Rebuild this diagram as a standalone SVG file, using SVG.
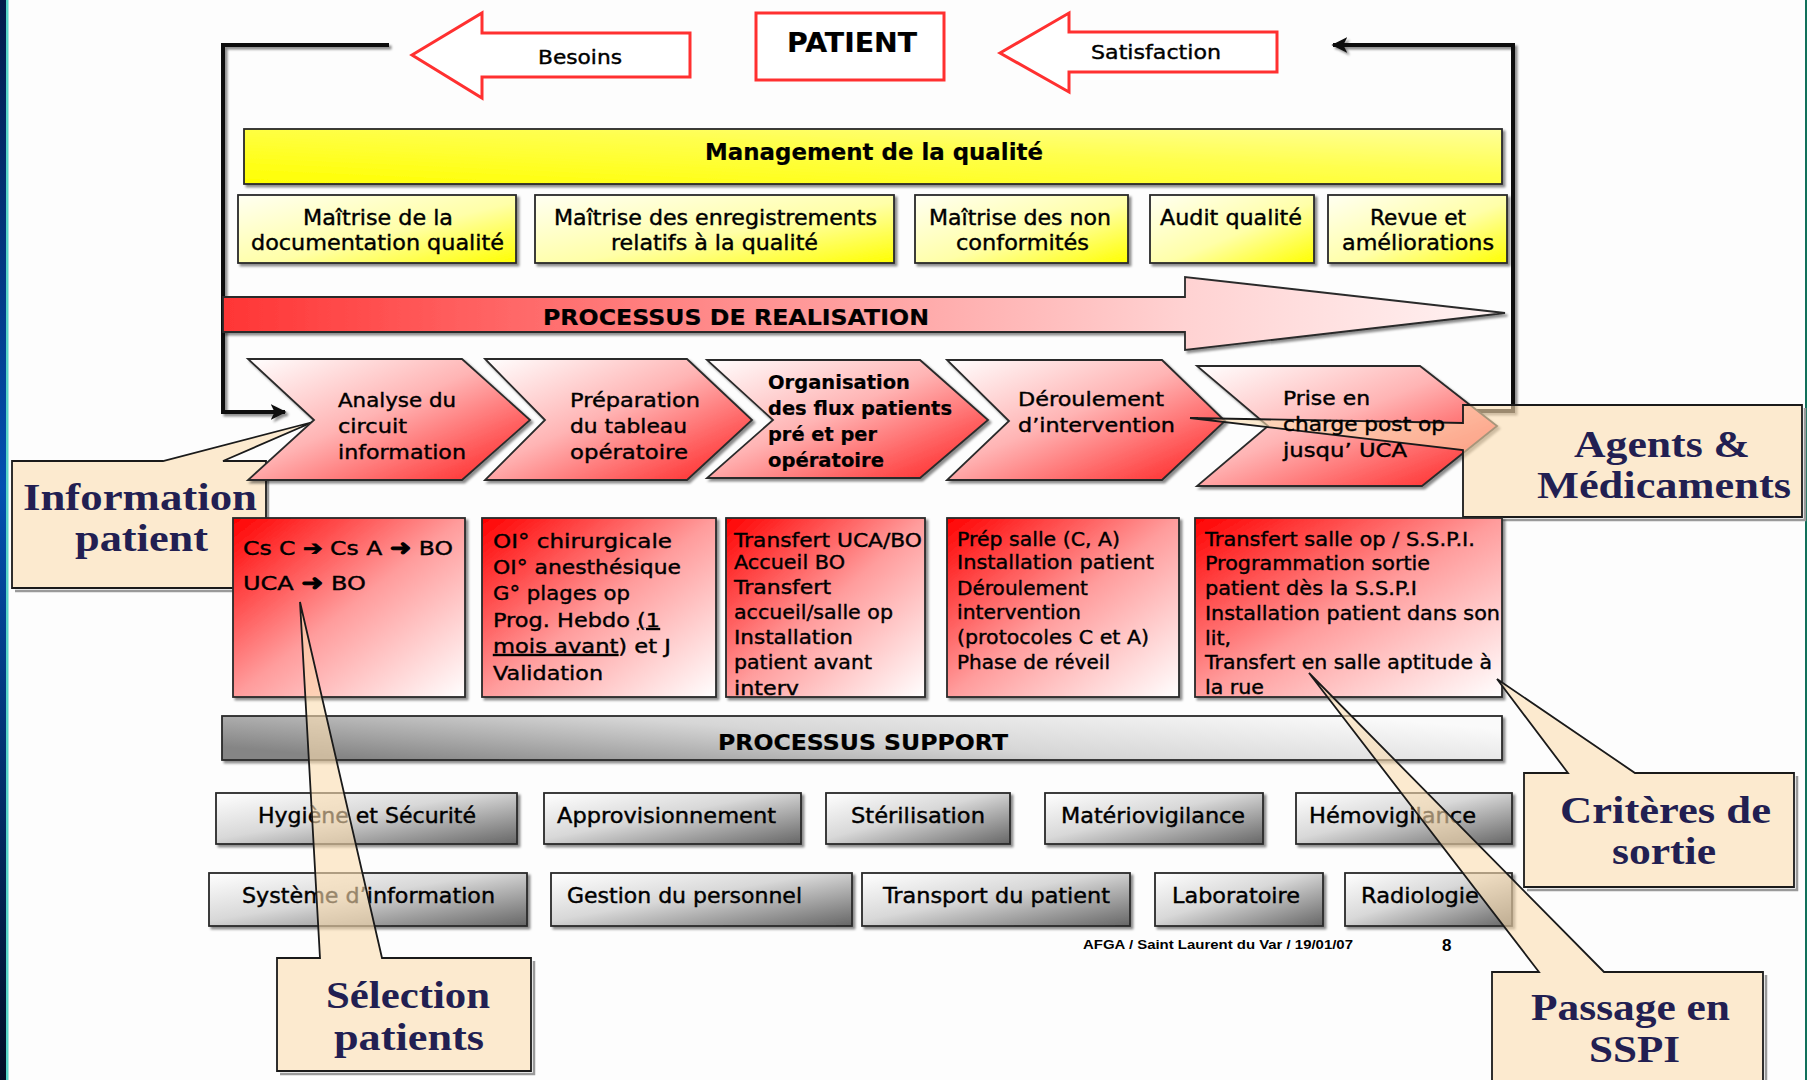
<svg xmlns="http://www.w3.org/2000/svg" width="1810" height="1080" viewBox="0 0 1810 1080">
<style>
.t{font-family:"DejaVu Sans","Liberation Sans",sans-serif;fill:#000;stroke:#000;stroke-width:0.4px}
.b{font-weight:bold;stroke-width:0.2px}
.f19{font-size:19px}.f20{font-size:20px}.f21{font-size:21px}.f22{font-size:22px}.f23{font-size:23px}
.s{font-family:"Liberation Serif","DejaVu Serif",serif;font-weight:bold;fill:#221f52;font-size:38px}
.box{stroke:#2a2a2a;stroke-width:1.8;filter:url(#sh)}
.call{fill:#FCDDB0;fill-opacity:0.6;stroke:#1a1a1a;stroke-width:1.8}
.callsh{fill:none;stroke:#9a9a9a;stroke-width:2.5}
.loop{fill:none;stroke:#111;stroke-width:4;filter:url(#sh)}
.redout{fill:#fff;stroke:#ff3030;stroke-width:3}
.u{text-decoration:underline}
.ar{font-weight:bold;font-size:22px;stroke-width:1px}
</style>
<defs>
<filter id="sh" x="-5%" y="-5%" width="115%" height="130%"><feDropShadow dx="2.5" dy="2.5" stdDeviation="1" flood-color="#000" flood-opacity="0.45"/></filter>
<linearGradient id="gEdge" x1="0" y1="0" x2="0" y2="1"><stop offset="0" stop-color="#001a4a"/><stop offset="0.45" stop-color="#0050b0"/><stop offset="1" stop-color="#000d26"/></linearGradient>
<linearGradient id="gYB" x1="0" y1="1" x2="1" y2="0"><stop offset="0" stop-color="#ffff00"/><stop offset="0.6" stop-color="#ffff50"/><stop offset="1" stop-color="#ffff9a"/></linearGradient>
<linearGradient id="gYx" x1="0" y1="0" x2="1" y2="1"><stop offset="0" stop-color="#fffff2"/><stop offset="0.55" stop-color="#ffffa8"/><stop offset="1" stop-color="#ffff00"/></linearGradient>
<linearGradient id="gRA" x1="0" y1="0" x2="1" y2="0"><stop offset="0" stop-color="#ff3535"/><stop offset="0.4" stop-color="#ff8e8e"/><stop offset="0.75" stop-color="#ffd2d2"/><stop offset="1" stop-color="#fff3f3"/></linearGradient>
<linearGradient id="gCh" x1="0" y1="0" x2="1" y2="1"><stop offset="0" stop-color="#ffffff"/><stop offset="0.45" stop-color="#ffb4b4"/><stop offset="1" stop-color="#ff1a1a"/></linearGradient>
<linearGradient id="gRB" x1="0" y1="0" x2="1" y2="1"><stop offset="0" stop-color="#ff0000"/><stop offset="0.5" stop-color="#ff9c9c"/><stop offset="1" stop-color="#ffffff"/></linearGradient>
<linearGradient id="gGB" x1="0" y1="0.7" x2="1" y2="0.3"><stop offset="0" stop-color="#858585"/><stop offset="0.5" stop-color="#d6d6d6"/><stop offset="1" stop-color="#fafafa"/></linearGradient>
<linearGradient id="gGx" x1="0" y1="0" x2="1" y2="1"><stop offset="0" stop-color="#ffffff"/><stop offset="0.45" stop-color="#d8d8d8"/><stop offset="1" stop-color="#666666"/></linearGradient>
<marker id="ah" viewBox="0 0 10 10" refX="9" refY="5" markerWidth="16" markerHeight="16" markerUnits="userSpaceOnUse" orient="auto"><path d="M0,0 L10,5 L0,10 L2.5,5 Z" fill="#111"/></marker>
</defs>

<rect width="1810" height="1080" fill="#fdfdfd"/>
<rect x="0" y="0" width="6" height="1080" fill="url(#gEdge)"/>
<rect x="6" y="0" width="2.5" height="1080" fill="#55d4c8"/>
<rect x="1805" y="0" width="2" height="1080" fill="#10705a"/>

<g id="connectors">
<path class="loop" d="M389,45 L223,45 L223,412 L285,412" marker-end="url(#ah)"/>
<path class="loop" d="M1465,411 L1513,411 L1513,45 L1333,45" marker-end="url(#ah)"/>
</g>

<g id="patient">
<rect class="redout" x="756" y="13" width="188" height="67"/>
<text class="t b" x="787" y="52" font-size="27" textLength="130" lengthAdjust="spacingAndGlyphs">PATIENT</text>
</g>
<g id="besoins">
<path class="redout" d="M412,55 L482,13 L482,33 L690,33 L690,77 L482,77 L482,98 Z"/>
<text class="t f20" x="538" y="64" textLength="84" lengthAdjust="spacingAndGlyphs">Besoins</text>
</g>
<g id="satisfaction">
<path class="redout" d="M1000,53 L1069,13 L1069,32 L1277,32 L1277,72 L1069,72 L1069,92 Z"/>
<text class="t f20" x="1091" y="59" textLength="130" lengthAdjust="spacingAndGlyphs">Satisfaction</text>
</g>

<g id="management">
<rect class="box" x="244" y="129" width="1258" height="55" fill="url(#gYB)"/>
<text class="t b f23" x="705" y="160" textLength="338" lengthAdjust="spacingAndGlyphs">Management de la qualité</text>
</g>
<g id="q1"><rect class="box" x="238" y="195" width="278" height="68" fill="url(#gYx)"/>
<text class="t f21" x="303" y="225" textLength="150" lengthAdjust="spacingAndGlyphs">Maîtrise de la</text>
<text class="t f21" x="251" y="250" textLength="253" lengthAdjust="spacingAndGlyphs">documentation qualité</text></g>
<g id="q2"><rect class="box" x="535" y="195" width="359" height="68" fill="url(#gYx)"/>
<text class="t f21" x="554" y="225" textLength="323" lengthAdjust="spacingAndGlyphs">Maîtrise des enregistrements</text>
<text class="t f21" x="611" y="250" textLength="207" lengthAdjust="spacingAndGlyphs">relatifs à la qualité</text></g>
<g id="q3"><rect class="box" x="915" y="195" width="213" height="68" fill="url(#gYx)"/>
<text class="t f21" x="929" y="225" textLength="182" lengthAdjust="spacingAndGlyphs">Maîtrise des non</text>
<text class="t f21" x="956" y="250" textLength="133" lengthAdjust="spacingAndGlyphs">conformités</text></g>
<g id="q4"><rect class="box" x="1150" y="195" width="164" height="68" fill="url(#gYx)"/>
<text class="t f21" x="1160" y="225" textLength="142" lengthAdjust="spacingAndGlyphs">Audit qualité</text></g>
<g id="q5"><rect class="box" x="1328" y="195" width="179" height="68" fill="url(#gYx)"/>
<text class="t f21" x="1370" y="225" textLength="96" lengthAdjust="spacingAndGlyphs">Revue et</text>
<text class="t f21" x="1342" y="250" textLength="152" lengthAdjust="spacingAndGlyphs">améliorations</text></g>

<g id="realisation">
<path class="box" d="M223,297 L1185,297 L1185,277 L1505,313 L1185,350 L1185,332 L223,332 Z" fill="url(#gRA)"/>
<text class="t b f22" x="543" y="325" textLength="386" lengthAdjust="spacingAndGlyphs">PROCESSUS DE REALISATION</text>
</g>

<g id="callout-information">
<path class="callsh" d="M268,464 L268,591 L15,591"/>
<path class="call" d="M12,461 L163,461 L313,422 L223,461 L266,461 L266,588 L12,588 Z"/>
<text class="s" x="23" y="510" textLength="234" lengthAdjust="spacingAndGlyphs">Information</text>
<text class="s" x="75" y="551" textLength="133" lengthAdjust="spacingAndGlyphs">patient</text>
</g>

<g id="chev1"><path class="box" d="M248,359 L462,359 L530,420 L462,480 L248,480 L314,420 Z" fill="url(#gCh)"/>
<text class="t f20" x="338" y="407" textLength="118" lengthAdjust="spacingAndGlyphs">Analyse du</text>
<text class="t f20" x="338" y="433" textLength="69" lengthAdjust="spacingAndGlyphs">circuit</text>
<text class="t f20" x="338" y="459" textLength="128" lengthAdjust="spacingAndGlyphs">information</text></g>
<g id="chev2"><path class="box" d="M485,359 L687,359 L752,420 L687,480 L485,480 L545,420 Z" fill="url(#gCh)"/>
<text class="t f20" x="570" y="407" textLength="130" lengthAdjust="spacingAndGlyphs">Préparation</text>
<text class="t f20" x="570" y="433" textLength="117" lengthAdjust="spacingAndGlyphs">du tableau</text>
<text class="t f20" x="570" y="459" textLength="118" lengthAdjust="spacingAndGlyphs">opératoire</text></g>
<g id="chev3"><path class="box" d="M707,360 L920,360 L988,420 L920,478 L707,478 L773,420 Z" fill="url(#gCh)"/>
<text class="t b f19" x="768" y="389" textLength="142" lengthAdjust="spacingAndGlyphs">Organisation</text>
<text class="t b f19" x="768" y="415" textLength="184" lengthAdjust="spacingAndGlyphs">des flux patients</text>
<text class="t b f19" x="768" y="441" textLength="109" lengthAdjust="spacingAndGlyphs">pré et per</text>
<text class="t b f19" x="768" y="467" textLength="116" lengthAdjust="spacingAndGlyphs">opératoire</text></g>
<g id="chev4"><path class="box" d="M947,360 L1162,360 L1225,421 L1162,480 L947,480 L1009,421 Z" fill="url(#gCh)"/>
<text class="t f20" x="1018" y="406" textLength="146" lengthAdjust="spacingAndGlyphs">Déroulement</text>
<text class="t f20" x="1018" y="432" textLength="157" lengthAdjust="spacingAndGlyphs">d’intervention</text></g>
<g id="chev5"><path class="box" d="M1197,366 L1420,366 L1497,426 L1422,486 L1197,486 L1268,426 Z" fill="url(#gCh)"/></g>

<g id="callout-agents">
<path class="callsh" d="M1805,408 L1805,520 L1466,520"/>
<path class="call" d="M1463,405 L1802,405 L1802,517 L1463,517 L1463,450 L1190,418 L1463,423 Z"/>
<text class="s" x="1574" y="457" textLength="176" lengthAdjust="spacingAndGlyphs">Agents &amp;</text>
<text class="s" x="1537" y="498" textLength="254" lengthAdjust="spacingAndGlyphs">Médicaments</text>
</g>
<g id="chev5-label">
<text class="t f20" x="1283" y="405" textLength="87" lengthAdjust="spacingAndGlyphs">Prise en</text>
<text class="t f20" x="1283" y="431" textLength="162" lengthAdjust="spacingAndGlyphs">charge post op</text>
<text class="t f20" x="1283" y="457" textLength="124" lengthAdjust="spacingAndGlyphs">jusqu’ UCA</text>
</g>

<g id="r1"><rect class="box" x="233" y="518" width="232" height="179" fill="url(#gRB)"/>
<text class="t f20" x="243" y="555" textLength="210" lengthAdjust="spacingAndGlyphs">Cs C <tspan font-weight="bold" stroke-width="0.8">➔</tspan> Cs A <tspan class="ar">➜</tspan> BO</text>
<text class="t f20" x="243" y="590" textLength="123" lengthAdjust="spacingAndGlyphs">UCA <tspan class="ar">➜</tspan> BO</text></g>
<g id="r2"><rect class="box" x="482" y="518" width="234" height="179" fill="url(#gRB)"/>
<text class="t f20" x="493" y="548" textLength="179" lengthAdjust="spacingAndGlyphs">OI°  chirurgicale</text>
<text class="t f20" x="493" y="574" textLength="188" lengthAdjust="spacingAndGlyphs">OI° anesthésique</text>
<text class="t f20" x="493" y="600" textLength="137" lengthAdjust="spacingAndGlyphs">G° plages op</text>
<text class="t f20" x="493" y="627" textLength="167" lengthAdjust="spacingAndGlyphs">Prog. Hebdo <tspan class="u">(1</tspan></text>
<text class="t f20" x="493" y="653" textLength="178" lengthAdjust="spacingAndGlyphs"><tspan class="u">mois avant</tspan>) et J</text>
<text class="t f20" x="493" y="680" textLength="110" lengthAdjust="spacingAndGlyphs">Validation</text></g>
<g id="r3"><rect class="box" x="726" y="518" width="199" height="179" fill="url(#gRB)"/>
<text class="t f20" x="734" y="547" textLength="188" lengthAdjust="spacingAndGlyphs">Transfert UCA/BO</text>
<text class="t f20" x="734" y="569" textLength="111" lengthAdjust="spacingAndGlyphs">Accueil BO</text>
<text class="t f20" x="734" y="594" textLength="97" lengthAdjust="spacingAndGlyphs">Transfert</text>
<text class="t f20" x="734" y="619" textLength="159" lengthAdjust="spacingAndGlyphs">accueil/salle op</text>
<text class="t f20" x="734" y="644" textLength="119" lengthAdjust="spacingAndGlyphs">Installation</text>
<text class="t f20" x="734" y="669" textLength="138" lengthAdjust="spacingAndGlyphs">patient avant</text>
<text class="t f20" x="734" y="695" textLength="65" lengthAdjust="spacingAndGlyphs">interv</text></g>
<g id="r4"><rect class="box" x="947" y="518" width="232" height="179" fill="url(#gRB)"/>
<text class="t f20" x="957" y="546" textLength="163" lengthAdjust="spacingAndGlyphs">Prép salle (C, A)</text>
<text class="t f20" x="957" y="569" textLength="197" lengthAdjust="spacingAndGlyphs">Installation patient</text>
<text class="t f20" x="957" y="595" textLength="131" lengthAdjust="spacingAndGlyphs">Déroulement</text>
<text class="t f20" x="957" y="619" textLength="124" lengthAdjust="spacingAndGlyphs">intervention</text>
<text class="t f20" x="957" y="644" textLength="192" lengthAdjust="spacingAndGlyphs">(protocoles C et A)</text>
<text class="t f20" x="957" y="669" textLength="153" lengthAdjust="spacingAndGlyphs">Phase de réveil</text></g>
<g id="r5"><rect class="box" x="1195" y="518" width="307" height="179" fill="url(#gRB)"/>
<text class="t f20" x="1205" y="546" textLength="270" lengthAdjust="spacingAndGlyphs">Transfert salle op / S.S.P.I.</text>
<text class="t f20" x="1205" y="570" textLength="225" lengthAdjust="spacingAndGlyphs">Programmation sortie</text>
<text class="t f20" x="1205" y="595" textLength="212" lengthAdjust="spacingAndGlyphs">patient dès la S.S.P.I</text>
<text class="t f20" x="1205" y="620" textLength="295" lengthAdjust="spacingAndGlyphs">Installation patient dans son</text>
<text class="t f20" x="1205" y="645" textLength="26" lengthAdjust="spacingAndGlyphs">lit,</text>
<text class="t f20" x="1205" y="669" textLength="287" lengthAdjust="spacingAndGlyphs">Transfert en salle aptitude à</text>
<text class="t f20" x="1205" y="694" textLength="59" lengthAdjust="spacingAndGlyphs">la rue</text></g>

<g id="support">
<rect class="box" x="222" y="716" width="1280" height="44" fill="url(#gGB)"/>
<text class="t b f22" x="718" y="750" textLength="290" lengthAdjust="spacingAndGlyphs">PROCESSUS SUPPORT</text>
</g>
<g id="s1"><rect class="box" x="216" y="793" width="301" height="51" fill="url(#gGx)"/><text class="t f21" x="258" y="823" textLength="218" lengthAdjust="spacingAndGlyphs">Hygiène et Sécurité</text></g>
<g id="s2"><rect class="box" x="544" y="793" width="257" height="51" fill="url(#gGx)"/><text class="t f21" x="557" y="823" textLength="219" lengthAdjust="spacingAndGlyphs">Approvisionnement</text></g>
<g id="s3"><rect class="box" x="826" y="793" width="184" height="51" fill="url(#gGx)"/><text class="t f21" x="851" y="823" textLength="134" lengthAdjust="spacingAndGlyphs">Stérilisation</text></g>
<g id="s4"><rect class="box" x="1045" y="793" width="218" height="51" fill="url(#gGx)"/><text class="t f21" x="1061" y="823" textLength="184" lengthAdjust="spacingAndGlyphs">Matériovigilance</text></g>
<g id="s5"><rect class="box" x="1296" y="793" width="216" height="51" fill="url(#gGx)"/><text class="t f21" x="1309" y="823" textLength="167" lengthAdjust="spacingAndGlyphs">Hémovigilance</text></g>
<g id="s6"><rect class="box" x="209" y="873" width="318" height="53" fill="url(#gGx)"/><text class="t f21" x="242" y="903" textLength="253" lengthAdjust="spacingAndGlyphs">Système d’information</text></g>
<g id="s7"><rect class="box" x="551" y="873" width="301" height="53" fill="url(#gGx)"/><text class="t f21" x="567" y="903" textLength="235" lengthAdjust="spacingAndGlyphs">Gestion du personnel</text></g>
<g id="s8"><rect class="box" x="862" y="873" width="268" height="53" fill="url(#gGx)"/><text class="t f21" x="883" y="903" textLength="227" lengthAdjust="spacingAndGlyphs">Transport du patient</text></g>
<g id="s9"><rect class="box" x="1155" y="873" width="168" height="53" fill="url(#gGx)"/><text class="t f21" x="1172" y="903" textLength="128" lengthAdjust="spacingAndGlyphs">Laboratoire</text></g>
<g id="s10"><rect class="box" x="1345" y="873" width="167" height="53" fill="url(#gGx)"/><text class="t f21" x="1361" y="903" textLength="118" lengthAdjust="spacingAndGlyphs">Radiologie</text></g>

<g id="footer">
<text x="1083" y="949" font-family="Liberation Sans, Arial, sans-serif" font-weight="bold" font-size="12" textLength="270" lengthAdjust="spacingAndGlyphs">AFGA / Saint Laurent du Var / 19/01/07</text>
<text x="1442" y="951" font-family="Liberation Sans, Arial, sans-serif" font-weight="bold" font-size="17">8</text>
</g>

<g id="callout-selection">
<path class="callsh" d="M534,961 L534,1074 L280,1074"/>
<path class="call" d="M277,958 L320,958 L300,602 L382,958 L531,958 L531,1071 L277,1071 Z"/>
<text class="s" x="326" y="1008" textLength="164" lengthAdjust="spacingAndGlyphs">Sélection</text>
<text class="s" x="334" y="1050" textLength="150" lengthAdjust="spacingAndGlyphs">patients</text>
</g>
<g id="callout-criteres">
<path class="callsh" d="M1797,776 L1797,890 L1527,890"/>
<path class="call" d="M1524,773 L1568,773 L1497,679 L1635,773 L1794,773 L1794,887 L1524,887 Z"/>
<text class="s" x="1560" y="823" textLength="211" lengthAdjust="spacingAndGlyphs">Critères de</text>
<text class="s" x="1612" y="864" textLength="104" lengthAdjust="spacingAndGlyphs">sortie</text>
</g>
<g id="callout-passage">
<path class="callsh" d="M1766,975 L1766,1090"/>
<path class="call" d="M1492,972 L1539,972 L1309,673 L1604,972 L1763,972 L1763,1090 L1492,1090 Z"/>
<text class="s" x="1531" y="1020" textLength="199" lengthAdjust="spacingAndGlyphs">Passage en</text>
<text class="s" x="1589" y="1062" textLength="91" lengthAdjust="spacingAndGlyphs">SSPI</text>
</g>
</svg>
